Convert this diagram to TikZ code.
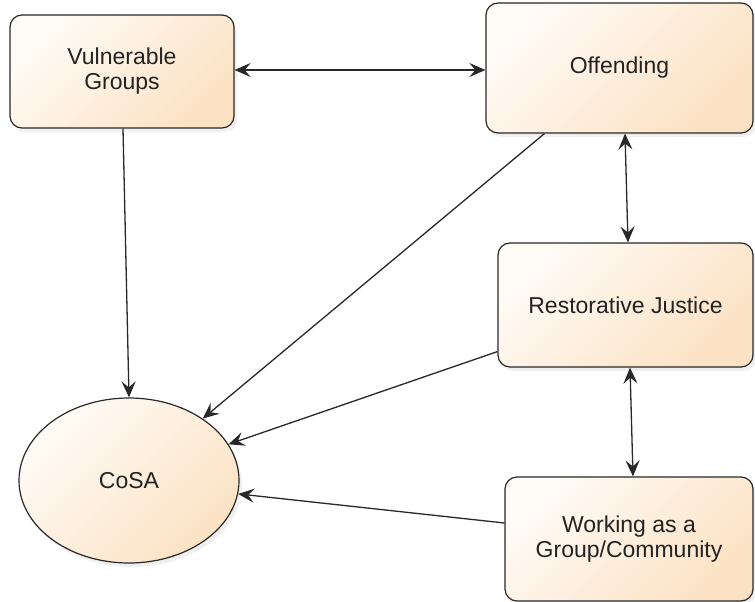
\documentclass[tikz,border=0pt]{standalone}
\usepackage{fontspec}
\setmainfont{Liberation Sans}
\usetikzlibrary{arrows.meta,shadows,calc,shapes.geometric}
\definecolor{lightfill}{RGB}{255,251,246}
\definecolor{darkfill}{RGB}{252,226,196}
\definecolor{edgecol}{RGB}{40,40,40}
\definecolor{textcol}{RGB}{35,35,35}
\tikzset{
  box/.style={draw=edgecol, line width=1.2pt, rounded corners=12pt,
    top color=lightfill, bottom color=darkfill, shading angle=45,
    drop shadow={opacity=0.12, shadow xshift=3pt, shadow yshift=-4pt},
    align=center, text=textcol, inner sep=0pt,
    font=\fontsize{23}{25}\selectfont},
  oval/.style={draw=edgecol, line width=1.2pt, ellipse,
    top color=lightfill, bottom color=darkfill, shading angle=45,
    drop shadow={opacity=0.12, shadow xshift=3pt, shadow yshift=-4pt},
    text=textcol, inner sep=0pt,
    font=\fontsize{23}{25}\selectfont},
  conn/.style={draw=edgecol, line width=1.3pt},
  onearrow/.style={conn, -{Stealth[length=16pt, width=14pt, inset=6pt]}},
  twoarrow/.style={conn, {Stealth[length=16pt, width=14pt, inset=6pt]}-{Stealth[length=16pt, width=14pt, inset=6pt]}},
}
\begin{document}
\begin{tikzpicture}[x=1pt, y=-1pt]
\useasboundingbox (0,0) rectangle (755,602);
\node[box, minimum width=224pt, minimum height=113pt] (VG) at (122,71.5) {Vulnerable\\Groups};
\node[box, minimum width=267pt, minimum height=130pt] (Off) at (619.5,68) {Offending};
\node[box, minimum width=255pt, minimum height=124pt] (RJ) at (625.5,305) {Restorative Justice};
\node[box, minimum width=248pt, minimum height=124pt] (WG) at (629,539) {Working as a\\Group/Community};
\node[oval, minimum width=220pt, minimum height=165pt] (CoSA) at (129,480.5) {CoSA};

\draw[twoarrow] ([yshift=1.5pt]VG.east) coordinate (h1) -- (h1 -| Off.west);
\draw[onearrow] ([xshift=1pt]VG.south) -- (CoSA.north);
\draw[onearrow] ([xshift=59pt]Off.south west) -- (CoSA.40);
\draw[onearrow] ([yshift=16pt]RJ.south west) -- (CoSA.20);
\draw[onearrow] ([yshift=16pt]WG.west) -- (CoSA.-7);
\draw[twoarrow] ([xshift=5.5pt]Off.south) -- ([xshift=2.5pt]RJ.north);
\draw[twoarrow] ([xshift=4.5pt]RJ.south) -- ([xshift=4pt]WG.north);
\end{tikzpicture}
\end{document}
